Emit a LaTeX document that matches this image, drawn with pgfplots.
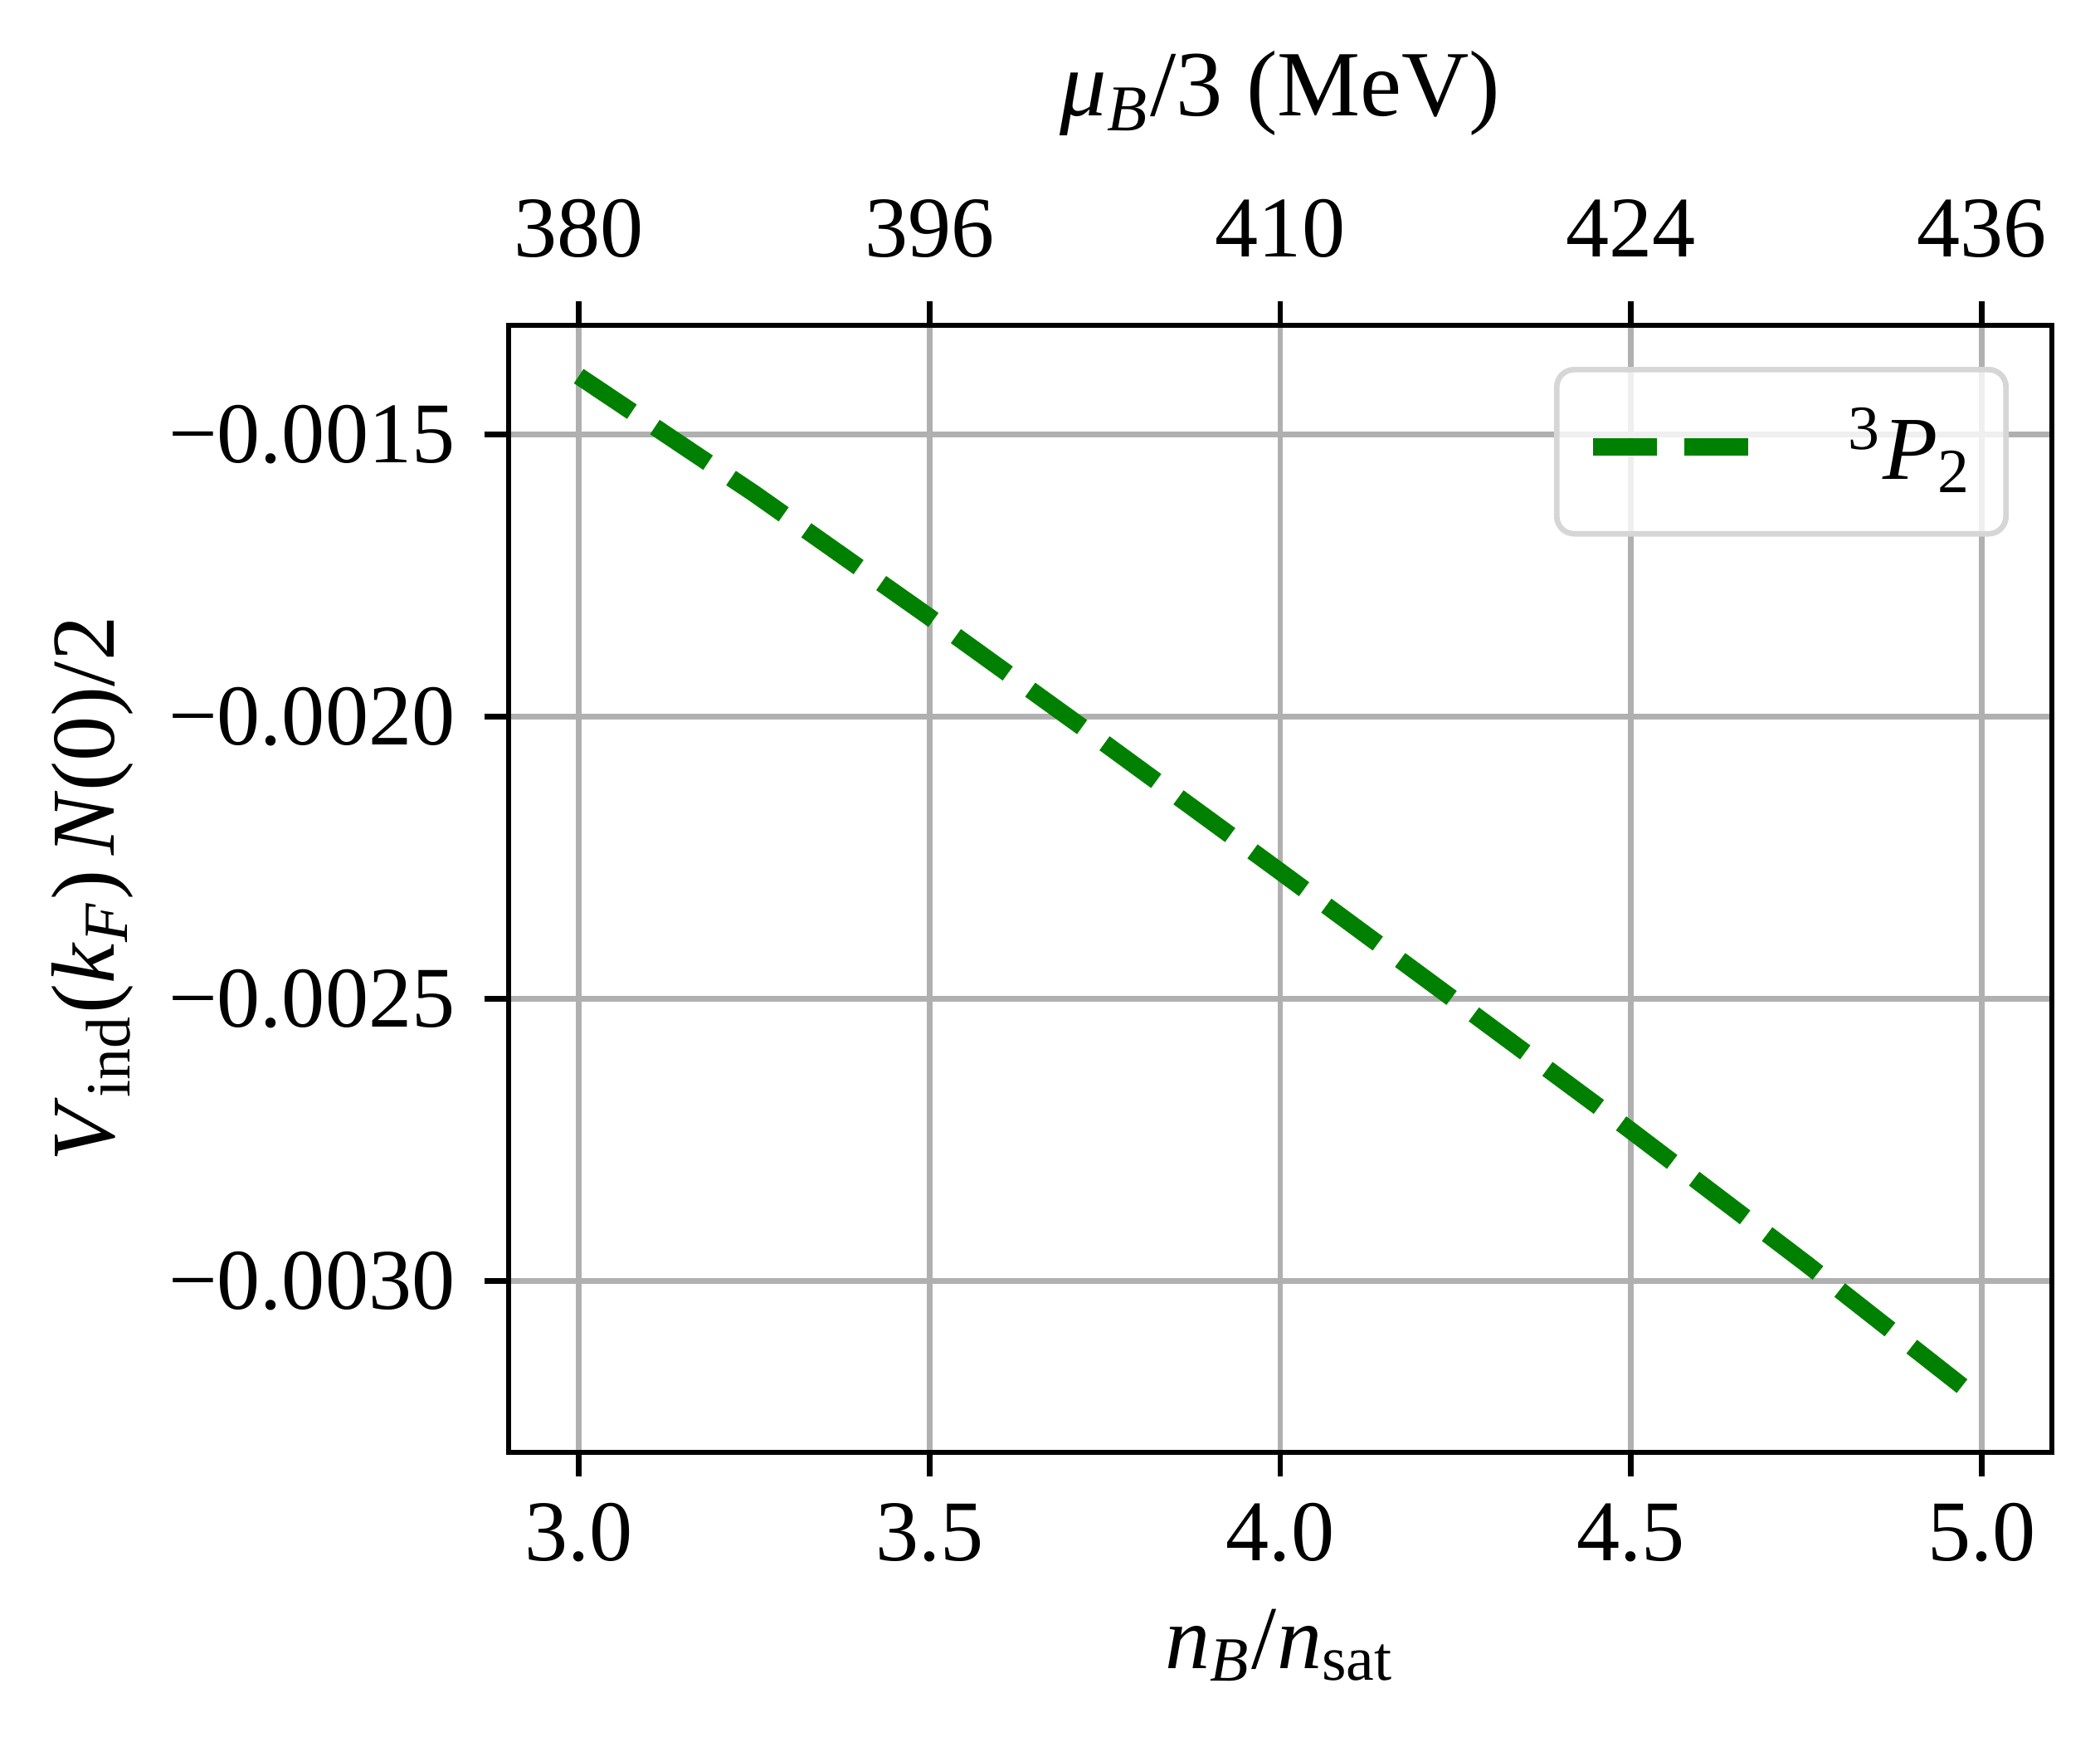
\documentclass[border=0pt]{standalone}
\usepackage{fontspec}
\setmainfont{Liberation Serif}
\usepackage{pgfplots}
\pgfplotsset{compat=1.18}

\definecolor{mplgreen}{HTML}{008000}
\definecolor{gridgray}{HTML}{B0B0B0}
\definecolor{framegray}{HTML}{D6D6D6}

\newcommand{\tickfont}{\fontsize{12.5bp}{15bp}\selectfont}
\newcommand{\labfont}{\fontsize{13bp}{15.6bp}\selectfont}

\pgfplotsset{
  common/.style={
    scale only axis,
    width=223.2bp, height=162.96bp,
    at={(0,0)}, anchor=south west,
    xmin=2.9, xmax=5.1,
    ymin=-0.003304, ymax=-0.001307,
    xtick={3,3.5,4,4.5,5},
    tick align=outside,
    major tick length=3.5bp,
    every tick/.style={black, line width=0.8bp},
    axis line style={line width=0.8bp, black},
    tick label style={font=\tickfont, inner sep=0pt},
    label style={font=\labfont, inner sep=0pt},
  }
}

\begin{document}
\begin{tikzpicture}
\path[use as bounding box] (-73.56bp,-41.76bp) rectangle (230.16bp,210bp);

\begin{axis}[
  common,
  xtick pos=left, ytick pos=left,
  xticklabels={3.0,3.5,4.0,4.5,5.0},
  ytick={-0.003,-0.0025,-0.002,-0.0015},
  yticklabels={−0.0030,−0.0025,−0.0020,−0.0015},
  scaled y ticks=false,
  xticklabel style={anchor=north},
  xticklabel shift=3.7bp,
  yticklabel style={anchor=east},
  yticklabel shift=4.06bp,
  grid=major,
  major grid style={gridgray, line width=0.8bp},
  xlabel={\textit{n}\textsubscript{\textit{B}}/\textit{n}\textsubscript{sat}},
  xlabel style={at={(axis description cs:0.5,-0.19146)}, anchor=base},
  ylabel={\textit{V}\textsubscript{ind}(\textit{k}\textsubscript{\textit{F}})\,\textit{N}(0)/2},
  ylabel style={at={(axis description cs:-0.25538,0.5)}, anchor=base, rotate=0},
  legend style={
    at={(rel axis cs:1,1)}, anchor=north east,
    xshift=-6.24bp, yshift=-6bp,
    draw=framegray, line width=0.8bp, fill=white, fill opacity=0.8,
    draw opacity=1, text opacity=1, rounded corners=2.5bp,
    inner sep=0pt, column sep=0pt, row sep=0pt,
    cells={anchor=base west},
    nodes={inner sep=0pt, text depth=0pt},
    font=\labfont,
  },
  legend image code/.code={
    \path[draw=none, fill=none] (-5.2bp,-7.9bp) rectangle (36.96bp,15.84bp);
    \draw[#1, rounded corners=0pt] (0bp,4.7bp) -- (22.56bp,4.7bp);
  },
]
\addplot[mplgreen, line width=2.5bp, line cap=butt, dash pattern=on 9.25bp off 4bp]
  coordinates {
    (3.00,-0.001397) (3.25,-0.001605) (3.50,-0.001824) (3.75,-0.002048)
    (4.00,-0.002275) (4.25,-0.002504) (4.50,-0.002734) (4.75,-0.002970)
    (5.00,-0.003214)
  };
\addlegendentry{\makebox[22.8bp][l]{\textsuperscript{3}\textit{P}\textsubscript{2}}}
\end{axis}

\begin{axis}[
  common,
  axis x line*=top, axis y line=none,
  xtick pos=right,
  tick align=outside,
  xticklabels={380,396,410,424,436},
  xticklabel style={anchor=base},
  xticklabel shift=6.34bp,
  xlabel={\textit{μ}\textsubscript{\textit{B}}/3 (MeV)},
  xlabel style={at={(axis description cs:0.5,1.18557)}, anchor=base, font=\fontsize{13.5bp}{16bp}\selectfont},
]
\end{axis}
\end{tikzpicture}
\end{document}
